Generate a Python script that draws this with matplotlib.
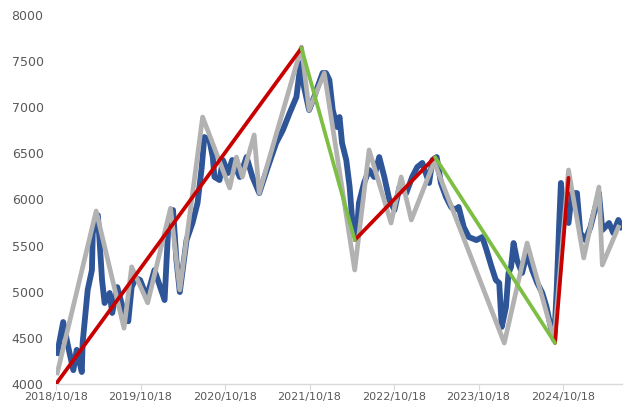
import matplotlib
matplotlib.use("Agg")
import matplotlib.pyplot as plt
import numpy as np

# price series (decimal year, value)
price_t = [2018.81, 2018.88, 2018.94, 2019.00, 2019.04, 2019.10, 2019.11, 2019.17, 2019.22, 2019.23,
           2019.29, 2019.31, 2019.34, 2019.37, 2019.43, 2019.46, 2019.52, 2019.57, 2019.61, 2019.65,
           2019.69, 2019.74, 2019.79, 2019.87, 2019.96, 2020.08, 2020.12, 2020.18, 2020.22, 2020.26,
           2020.34, 2020.41, 2020.47, 2020.52, 2020.55, 2020.61, 2020.65, 2020.67, 2020.73, 2020.77,
           2020.83, 2020.88, 2020.97, 2021.05, 2021.12, 2021.20, 2021.29, 2021.40, 2021.48, 2021.56,
           2021.64, 2021.68, 2021.70, 2021.73, 2021.79, 2021.85, 2021.89, 2021.95, 2021.99, 2022.03,
           2022.07, 2022.12, 2022.15, 2022.18, 2022.23, 2022.27, 2022.30, 2022.35, 2022.38, 2022.44,
           2022.50, 2022.56, 2022.62, 2022.68, 2022.74, 2022.80, 2022.86, 2022.94, 2023.01, 2023.07,
           2023.13, 2023.21, 2023.25, 2023.30, 2023.35, 2023.41, 2023.47, 2023.51, 2023.56, 2023.62,
           2023.68, 2023.77, 2023.84, 2023.89, 2023.95, 2024.00, 2024.04, 2024.07, 2024.12, 2024.15,
           2024.18, 2024.21, 2024.25, 2024.31, 2024.37, 2024.43, 2024.49, 2024.55, 2024.60, 2024.65,
           2024.69, 2024.72, 2024.75, 2024.77, 2024.80, 2024.86, 2024.90, 2024.96, 2025.00, 2025.06,
           2025.12, 2025.18, 2025.22, 2025.26, 2025.34, 2025.39, 2025.45, 2025.49]
price_v = [4336, 4672, 4400, 4150, 4370, 4130, 4444, 5020, 5235, 5637,
           5830, 5560, 5127, 4878, 4986, 4770, 5050, 4878, 4750, 4680,
           5050, 5150, 5127, 4943, 5235, 4910, 5637, 5886, 5344, 4997,
           5560, 5745, 5962, 6352, 6677, 6645, 6460, 6244, 6211, 6428,
           6287, 6428, 6244, 6460, 6244, 6070, 6320, 6612, 6753, 6938,
           7111, 7404, 7480, 7220, 6970, 7111, 7220, 7371, 7371, 7295,
           6970, 6786, 6894, 6612, 6428, 6135, 5778, 5593, 5962, 6179,
           6320, 6244, 6460, 6244, 5995, 5886, 6135, 6070, 6244, 6352,
           6396, 6179, 6428, 6460, 6179, 6027, 5919, 5886, 5919, 5702,
           5593, 5560, 5593, 5452, 5268, 5127, 5095, 4618, 4835, 5203,
           5268, 5528, 5344, 5203, 5420, 5236, 5095, 4986, 4835, 4618,
           4477, 5019, 5745, 6179, 5854, 5745, 6070, 6070, 5637, 5560,
           5702, 5919, 6070, 5669, 5745, 5637, 5778, 5702]

# zigzag swing points
zz_t = [2018.81, 2019.27, 2019.60, 2019.69, 2019.88, 2020.15, 2020.26, 2020.53, 2020.85, 2020.93,
        2021.00, 2021.14, 2021.20, 2021.70, 2021.79, 2021.97, 2022.33, 2022.50, 2022.76, 2022.88,
        2023.00, 2023.27, 2024.10, 2024.37, 2024.69, 2024.86, 2025.04, 2025.22, 2025.26, 2025.45]
zz_v = [4120, 5875, 4605, 5270, 4880, 5905, 5020, 6894, 6125, 6460,
        6244, 6700, 6070, 7653, 6970, 7371, 5236, 6537, 5745, 6244,
        5778, 6407, 4444, 5528, 4477, 6320, 5366, 6135, 5290, 5700]

# trend segments: up legs red, down legs green
up_legs = [((2018.795, 4000), (2021.70, 7642)),
           ((2022.33, 5560), (2023.28, 6460)),
           ((2024.70, 4445), (2024.86, 6235))]
down_legs = [((2021.70, 7642), (2022.33, 5560)),
             ((2023.28, 6460), (2024.70, 4445))]

tick_years = [2018.795 + k for k in range(7)]
tick_labels = ['2018/10/18', '2019/10/18', '2020/10/18', '2021/10/18',
               '2022/10/18', '2023/10/18', '2024/10/18']

fig = plt.figure(figsize=(6.3, 4.11), dpi=100)
ax = fig.add_axes([0.0889, 0.0657, 0.898, 0.8978])

ax.plot(price_t, price_v, color='#2E5597', lw=4.2, solid_joinstyle='round', zorder=2)
ax.plot(zz_t, zz_v, color='#B2B2B2', lw=3.4, solid_joinstyle='round', zorder=3)
for (x0, y0), (x1, y1) in up_legs:
    ax.plot([x0, x1], [y0, y1], color='#C80000', lw=2.7, solid_capstyle='round', zorder=4)
for (x0, y0), (x1, y1) in down_legs:
    ax.plot([x0, x1], [y0, y1], color='#7DBE45', lw=2.7, solid_capstyle='round', zorder=4)

ax.set_xlim(2018.795, 2025.49)
ax.set_ylim(4000, 8000)
ax.set_yticks(np.arange(4000, 8001, 500))
ax.set_xticks(tick_years)
ax.set_xticklabels(tick_labels)

for s in ['top', 'right', 'left']:
    ax.spines[s].set_visible(False)
ax.spines['bottom'].set_color('#D9D9D9')
ax.spines['bottom'].set_linewidth(1.0)
ax.tick_params(axis='y', length=0, pad=9, labelsize=9, labelcolor='#595959')
ax.tick_params(axis='x', length=4, color='#D9D9D9', pad=2, labelsize=8, labelcolor='#595959')

fig.savefig('out.png', dpi=100)
